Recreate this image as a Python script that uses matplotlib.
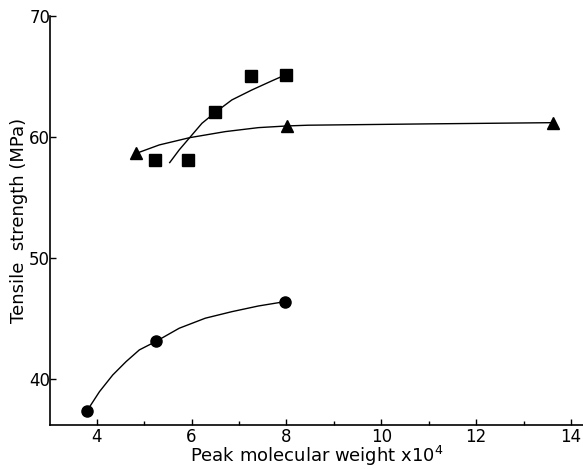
import numpy as np
import matplotlib.pyplot as plt
from matplotlib.ticker import MultipleLocator

# datos (peso molecular x10^4, MPa)
circ_x = [3.80, 5.25, 7.97]
circ_y = [37.38, 43.10, 46.39]
circ_curve_x = [3.80, 4.06, 4.34, 4.62, 4.90, 5.25, 5.74, 6.29, 6.85, 7.41, 7.97]
circ_curve_y = [37.38, 38.95, 40.33, 41.43, 42.40, 43.10, 44.19, 45.02, 45.56, 46.03, 46.39]

sq_x = [5.23, 5.92, 6.50, 7.25, 7.99]
sq_y = [58.10, 58.10, 62.09, 65.04, 65.15]
sq_curve_x = [5.54, 5.74, 5.96, 6.22, 6.52, 6.85, 7.27, 7.69, 7.99]
sq_curve_y = [57.88, 58.93, 59.94, 61.13, 62.09, 63.06, 63.88, 64.63, 65.15]

tri_x = [4.84, 8.02, 13.62]
tri_y = [58.65, 60.91, 61.18]
tri_curve_x = [4.84, 5.32, 5.96, 6.71, 7.41, 8.02, 8.46, 11.0, 13.62]
tri_curve_y = [58.65, 59.34, 59.94, 60.44, 60.77, 60.91, 60.97, 61.08, 61.18]

xticks = [4, 6, 8, 10, 12, 14]
yticks = [40, 50, 60, 70]

plt.rcParams['font.family'] = ['DejaVu Sans']
fig = plt.figure(figsize=(5.83, 4.69), dpi=100)
ax = fig.add_axes([0.086, 0.094, 0.914, 0.872])

# curvas
for cx, cy in [(circ_curve_x, circ_curve_y), (sq_curve_x, sq_curve_y),
               (tri_curve_x, tri_curve_y)]:
    ax.plot(cx, cy, color='black', lw=1.0, solid_joinstyle='round')

# puntos
ax.plot(circ_x, circ_y, 'o', color='black', ms=8, clip_on=False)
ax.plot(sq_x, sq_y, 's', color='black', ms=8, clip_on=False)
ax.plot(tri_x, tri_y, '^', color='black', ms=9, clip_on=False)

ax.set_xlim(3.02, 14.25)
ax.set_ylim(36.2, 70)
ax.set_xticks(xticks)
ax.set_yticks(yticks)
ax.xaxis.set_minor_locator(MultipleLocator(1))
ax.tick_params(axis='both', which='major', direction='in', length=4, width=1,
               labelsize=12, pad=2)
ax.tick_params(axis='x', which='minor', direction='in', length=3, width=1)
ax.tick_params(axis='y', pad=0)

for s in ['top', 'right']:
    ax.spines[s].set_visible(False)
for s in ['left', 'bottom']:
    ax.spines[s].set_linewidth(1.2)

ax.set_xlabel("Peak molecular weight x10$^4$", fontsize=13, labelpad=-1)
ax.set_ylabel("Tensile  strength (MPa)", fontsize=13, labelpad=1)

plt.savefig("out.png", dpi=100)
